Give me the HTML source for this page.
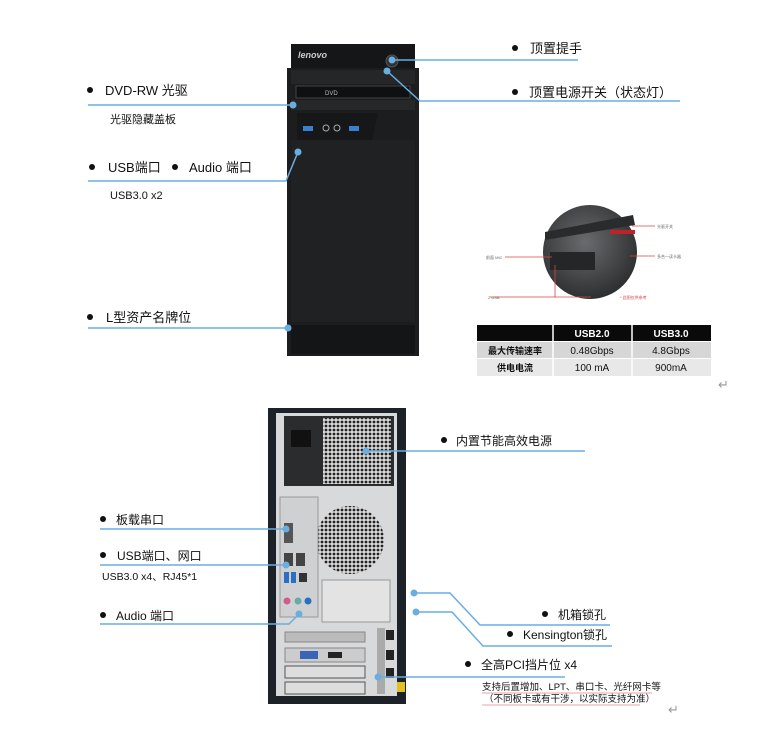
<!DOCTYPE html>
<html><head><meta charset="utf-8"><style>
html,body{margin:0;padding:0;background:#fff;}
svg{display:block;}
text{font-family:"Liberation Sans","Noto Sans CJK SC",sans-serif;fill:#111;}
</style></head><body>
<svg width="780" height="731" viewBox="0 0 780 731" xmlns="http://www.w3.org/2000/svg">
<defs>
<pattern id="holes" width="4" height="4" patternUnits="userSpaceOnUse"><rect width="4" height="4" fill="#d8d8d8"/><circle cx="2" cy="2" r="1.4" fill="#222"/></pattern>
<radialGradient id="cg" cx="0.45" cy="0.4" r="0.6"><stop offset="0" stop-color="#6a6b6e"/><stop offset="1" stop-color="#2e2f31"/></radialGradient>
</defs>
<!-- FRONT TOWER -->
<rect x="291" y="44" width="124" height="24" fill="#151617"/>
<text x="298" y="58" font-size="9" font-style="italic" font-weight="bold" style="fill:#ccc">lenovo</text>
<circle cx="392" cy="61" r="6" fill="#333" stroke="#555"/>
<rect x="287" y="68" width="132" height="288" fill="#1c1d1f"/>
<rect x="291" y="70" width="124" height="14" fill="#252628"/>
<rect x="296" y="86" width="114" height="12" fill="#0f1011" stroke="#444" stroke-width="1"/>
<text x="325" y="95" font-size="6" style="fill:#bbb">DVD</text>
<rect x="291" y="100" width="124" height="10" fill="#262729"/>
<polygon points="297,113 378,113 372,140 297,140" fill="#161718"/>
<rect x="303" y="126" width="10" height="5" fill="#3a7fd0"/>
<rect x="349" y="126" width="10" height="5" fill="#3a7fd0"/>
<circle cx="326" cy="128" r="3" fill="none" stroke="#aaa"/>
<circle cx="337" cy="128" r="3" fill="none" stroke="#aaa"/>
<rect x="291" y="140" width="124" height="182" fill="#202123"/>
<rect x="291" y="325" width="124" height="29" fill="#141516"/>
<!-- closeup -->
<circle cx="590" cy="252" r="47" fill="url(#cg)"/>
<polygon points="545,232 633,215 635,225 545,240" fill="#2a2b2d"/>
<rect x="550" y="252" width="45" height="18" fill="#252628"/>
<rect x="610" y="230" width="25" height="4" fill="#c0202a"/>
<g stroke="#d44" stroke-width="0.8" fill="none">
<line x1="505" y1="257" x2="552" y2="257"/><line x1="632" y1="226" x2="655" y2="226"/><line x1="630" y1="256" x2="655" y2="256"/>
<polyline points="490,297 555,297 555,265"/><line x1="555" y1="297" x2="591" y2="297"/>
</g>
<text x="486" y="259" font-size="4" style="fill:#666">前面 MIC</text>
<text x="657" y="228" font-size="4" style="fill:#666">光驱开关</text>
<text x="657" y="258" font-size="4" style="fill:#666">多合一读卡器</text>
<text x="488" y="299" font-size="4" style="fill:#666">2 USB</text>
<text x="620" y="299" font-size="4" style="fill:#d44">* 此图仅供参考</text>
<!-- table -->
<rect x="477" y="325" width="234" height="16" fill="#0a0a0a"/>
<rect x="477" y="342" width="234" height="16" fill="#d6d6d6"/>
<rect x="477" y="359" width="234" height="17" fill="#e8e8e8"/>
<g stroke="#fff" stroke-width="1.5"><line x1="553" y1="325" x2="553" y2="376"/><line x1="632" y1="325" x2="632" y2="376"/></g>
<g font-size="10" text-anchor="middle">
<text x="592" y="337" font-weight="bold" style="fill:#fff">USB2.0</text>
<text x="671" y="337" font-weight="bold" style="fill:#fff">USB3.0</text>
<text x="515" y="354" font-weight="bold" font-size="9">最大传输速率</text>
<text x="592" y="354">0.48Gbps</text><text x="671" y="354">4.8Gbps</text>
<text x="515" y="371" font-weight="bold" font-size="9">供电电流</text>
<text x="592" y="371">100 mA</text><text x="671" y="371">900mA</text>
</g>
<!-- BACK TOWER -->
<rect x="268" y="408" width="138" height="296" fill="#1d2128"/>
<rect x="276" y="413" width="121" height="283" fill="#d8d9db"/>
<rect x="284" y="416" width="110" height="70" fill="#2b2c2e"/>
<rect x="291" y="430" width="20" height="17" fill="#111"/>
<rect x="323" y="418" width="68" height="66" fill="url(#holes)"/>
<circle cx="350" cy="540" r="34" fill="url(#holes)"/>
<rect x="280" y="497" width="38" height="120" fill="#cfd0d2" stroke="#999"/>
<rect x="284" y="523" width="9" height="20" fill="#555"/>
<rect x="284" y="553" width="9" height="13" fill="#444"/><rect x="296" y="553" width="9" height="13" fill="#444"/>
<rect x="284" y="572" width="5" height="11" fill="#2a6fc2"/><rect x="291" y="572" width="5" height="11" fill="#2a6fc2"/>
<rect x="299" y="573" width="8" height="9" fill="#333"/>
<circle cx="287" cy="601" r="3.5" fill="#d05c8a"/><circle cx="298" cy="601" r="3.5" fill="#6aa"/><circle cx="308" cy="601" r="3.5" fill="#2a6fc2"/>
<rect x="322" y="580" width="68" height="42" fill="#e3e3e4" stroke="#999"/>
<rect x="285" y="632" width="80" height="10" fill="#bbb" stroke="#888"/>
<rect x="285" y="648" width="80" height="14" fill="#ccc" stroke="#888"/>
<rect x="300" y="651" width="18" height="8" fill="#3a64b8"/><rect x="328" y="652" width="14" height="6" fill="#222"/>
<rect x="285" y="666" width="80" height="12" fill="#ddd" stroke="#555"/>
<rect x="285" y="682" width="80" height="12" fill="#ddd" stroke="#555"/>
<rect x="377" y="628" width="8" height="66" fill="#aaa"/>
<rect x="386" y="630" width="8" height="10" fill="#222"/><rect x="386" y="650" width="8" height="10" fill="#222"/><rect x="386" y="668" width="8" height="10" fill="#222"/>
<rect x="397" y="682" width="8" height="10" fill="#e3c020"/>
<!-- connectors -->
<g stroke="#6aaee0" stroke-width="1.5" fill="none">
<line x1="88" y1="105" x2="293" y2="105"/>
<polyline points="88,181 286,181 298,152"/>
<line x1="88" y1="328" x2="288" y2="328"/>
<polyline points="392,60 578,60"/>
<polyline points="387,71 420,101 680,101"/>
<polyline points="366,451 585,451"/>
<line x1="100" y1="529" x2="286" y2="529"/>
<line x1="100" y1="565" x2="286" y2="565"/>
<polyline points="100,624 289,624 299,614"/>
<polyline points="414,593 450,593 480,625 610,625"/>
<polyline points="416,612 452,612 483,646 612,646"/>
<line x1="378" y1="677" x2="565" y2="677"/>
</g>
<g fill="#6aaee0">
<circle cx="293" cy="105" r="3.5"/><circle cx="298" cy="152" r="3.5"/><circle cx="288" cy="328" r="3.5"/>
<circle cx="392" cy="60" r="3.5"/><circle cx="387" cy="71" r="3.5"/>
<circle cx="366" cy="451" r="3.5"/><circle cx="286" cy="529" r="3.5"/><circle cx="286" cy="565" r="3.5"/>
<circle cx="299" cy="614" r="3.5"/><circle cx="414" cy="593" r="3.5"/><circle cx="416" cy="612" r="3.5"/><circle cx="378" cy="677" r="3.5"/>
</g>
<g font-size="13">
<circle cx="90" cy="90" r="3" fill="#111"/><text x="105" y="95">DVD-RW 光驱</text>
<text x="110" y="123" font-size="11">光驱隐藏盖板</text>
<circle cx="92" cy="167" r="3" fill="#111"/><text x="108" y="172">USB端口</text>
<circle cx="175" cy="167" r="3" fill="#111"/><text x="189" y="172">Audio 端口</text>
<text x="110" y="199" font-size="11">USB3.0 x2</text>
<circle cx="90" cy="317" r="3" fill="#111"/><text x="106" y="322">L型资产名牌位</text>
<circle cx="515" cy="48" r="3" fill="#111"/><text x="530" y="53">顶置提手</text>
<circle cx="515" cy="92" r="3" fill="#111"/><text x="529" y="97">顶置电源开关（状态灯）</text>
<circle cx="444" cy="440" r="3" fill="#111"/><text x="456" y="445" font-size="12">内置节能高效电源</text>
<circle cx="103" cy="519" r="3" fill="#111"/><text x="116" y="524" font-size="12">板载串口</text>
<circle cx="103" cy="555" r="3" fill="#111"/><text x="117" y="560" font-size="12">USB端口、网口</text>
<text x="102" y="580" font-size="10.5">USB3.0 x4、RJ45*1</text>
<circle cx="103" cy="615" r="3" fill="#111"/><text x="116" y="620" font-size="12">Audio 端口</text>
<circle cx="545" cy="614" r="3" fill="#111"/><text x="558" y="619" font-size="12">机箱锁孔</text>
<circle cx="510" cy="634" r="3" fill="#111"/><text x="523" y="639" font-size="12">Kensington锁孔</text>
<circle cx="468" cy="664" r="3" fill="#111"/><text x="481" y="669" font-size="12">全高PCI挡片位 x4</text>
<text x="482" y="690" font-size="9.5">支持后置增加、LPT、串口卡、光纤网卡等</text>
<text x="484" y="702" font-size="9.5">（不同板卡或有干涉，以实际支持为准）</text>
</g>
<line x1="482" y1="693" x2="652" y2="693" stroke="#d88" stroke-width="0.8"/>
<line x1="482" y1="705" x2="640" y2="705" stroke="#d88" stroke-width="0.8"/>
<text x="718" y="389" font-size="13" style="fill:#999">↵</text>
<text x="668" y="714" font-size="13" style="fill:#999">↵</text>
</svg>
</body></html>
